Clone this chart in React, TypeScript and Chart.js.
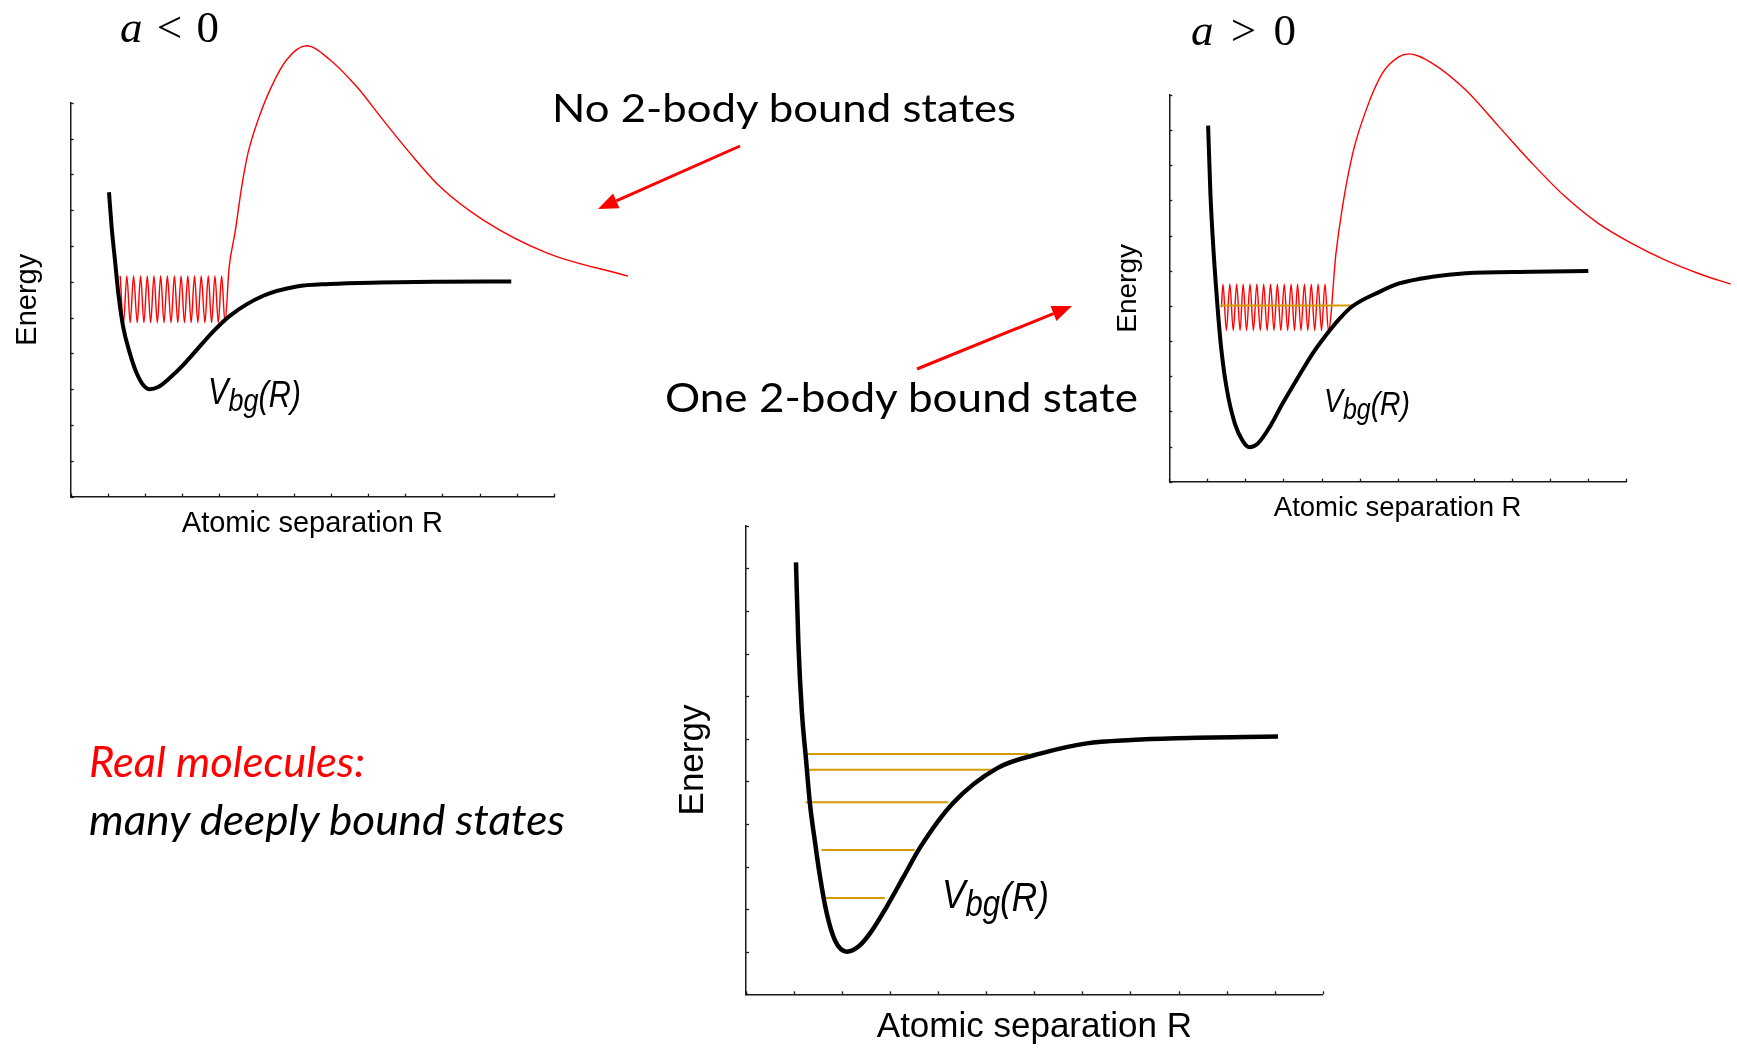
import React, { useEffect, useRef } from "react";
import { Chart, registerables } from "chart.js";

Chart.register(...registerables);

// ---------- DATA (R = atomic separation, E = energy, in tick units) ----------
// Panel 1 : a < 0
const p1CurveR = [1.03, 1.10, 1.19, 1.28, 1.41, 1.59, 1.77, 1.95, 2.13, 2.35, 2.67, 3.03, 3.39, 3.83, 4.28, 5.18, 6.08, 6.97, 8.31, 9.93, 11.85];
const p1CurveE = [8.50, 7.54, 6.61, 5.69, 4.75, 4.01, 3.46, 3.12, 3.00, 3.06, 3.32, 3.68, 4.10, 4.61, 5.05, 5.61, 5.87, 5.94, 5.98, 6.00, 6.01];
const p1WaveR = [1.33, 1.42, 1.51, 1.60, 1.69, 1.79, 1.88, 1.97, 2.06, 2.15, 2.24, 2.33, 2.42, 2.51, 2.60, 2.70, 2.79, 2.88, 2.97, 3.06, 3.15, 3.24, 3.33, 3.42, 3.51, 3.61, 3.70, 3.79, 3.88, 3.97, 4.06, 4.15];
const p1WaveE = [6.16, 4.86, 6.16, 4.86, 6.16, 4.86, 6.16, 4.86, 6.16, 4.86, 6.16, 4.86, 6.16, 4.86, 6.16, 4.86, 6.16, 4.86, 6.16, 4.86, 6.16, 4.86, 6.16, 4.86, 6.16, 4.86, 6.16, 4.86, 6.16, 4.86, 6.16, 4.86];
const p1TailR = [4.26, 4.42, 4.60, 4.77, 5.04, 5.40, 5.81, 6.34, 6.97, 7.69, 8.40, 9.12, 9.93, 11.09, 12.80, 14.99];
const p1TailE = [6.39, 7.37, 8.66, 9.60, 10.52, 11.45, 12.20, 12.59, 12.20, 11.45, 10.52, 9.60, 8.66, 7.73, 6.81, 6.16];
const p1RMax = 13;
const p1EMax = 11;

// Panel 2 : a > 0
const p2CurveR = [1.02, 1.08, 1.15, 1.24, 1.35, 1.50, 1.72, 1.94, 2.11, 2.33, 2.64, 2.98, 3.34, 3.77, 4.02, 4.47, 4.81, 5.52, 6.04, 6.91, 7.79, 9.53, 11.01];
const p2CurveE = [10.13, 8.20, 6.78, 5.36, 3.94, 2.70, 1.66, 1.14, 0.98, 1.09, 1.56, 2.23, 2.89, 3.65, 4.03, 4.63, 4.99, 5.40, 5.64, 5.83, 5.93, 5.97, 5.99];
const p2WaveR = [1.37, 1.41, 1.50, 1.59, 1.68, 1.77, 1.86, 1.94, 2.03, 2.12, 2.21, 2.30, 2.39, 2.48, 2.57, 2.66, 2.75, 2.84, 2.93, 3.02, 3.11, 3.20, 3.29, 3.37, 3.46, 3.55, 3.64, 3.73, 3.82, 3.91, 4.00, 4.09, 4.18];
const p2WaveE = [4.96, 5.62, 4.30, 5.62, 4.30, 5.62, 4.30, 5.62, 4.30, 5.62, 4.30, 5.62, 4.30, 5.62, 4.30, 5.62, 4.30, 5.62, 4.30, 5.62, 4.30, 5.62, 4.30, 5.62, 4.30, 5.62, 4.30, 5.62, 4.30, 5.62, 4.30, 5.62, 4.30];
const p2TailR = [4.38, 4.55, 4.82, 5.17, 5.60, 6.04, 6.30, 6.91, 7.79, 8.66, 9.53, 10.40, 11.27, 12.15, 13.02, 13.89, 14.75];
const p2TailE = [6.50, 7.82, 9.34, 10.57, 11.62, 12.09, 12.17, 11.90, 11.14, 10.10, 9.06, 8.11, 7.35, 6.78, 6.31, 5.93, 5.62];
const p2LevelE = [5.01];
const p2LevelR0 = [1.35];
const p2LevelR1 = [4.82];
const p2RMax = 12;
const p2EMax = 11;

// Panel 3 : real molecules
const p3CurveR = [1.04, 1.09, 1.16, 1.25, 1.33, 1.44, 1.54, 1.68, 1.85, 2.10, 2.34, 2.58, 2.93, 3.28, 3.63, 4.30, 5.23, 6.16, 7.09, 8.02, 8.95, 11.07];
const p3CurveE = [10.14, 8.24, 6.67, 5.50, 4.48, 3.54, 2.76, 1.90, 1.27, 1.00, 1.12, 1.43, 2.06, 2.76, 3.46, 4.48, 5.31, 5.66, 5.89, 5.97, 6.01, 6.05];
const p3LevelE = [5.64, 5.27, 4.51, 3.39, 2.26];
const p3LevelR0 = [1.24, 1.24, 1.24, 1.57, 1.57];
const p3LevelR1 = [5.88, 5.20, 4.21, 3.51, 2.89];
const p3RMax = 12;
const p3EMax = 11;

const xTitleText = "Atomic separation R";
const yTitleText = "Energy";

// ---------- STYLE ----------
const RED = "#ff0000";
const ORANGE = "#d29c00";
const AXIS = "#1a1a1a";
const SANS = "'Liberation Sans', Arial, sans-serif";

type Pt = { x: number; y: number };
const pts = (r: number[], e: number[]): Pt[] => r.map((v, i) => ({ x: v, y: e[i] }));

const innerTicks = {
  id: "innerTicks",
  beforeDatasetsDraw(chart: any) {
    const { ctx, chartArea, scales } = chart;
    ctx.save();
    ctx.strokeStyle = AXIS;
    ctx.lineWidth = 1.3;
    for (const t of scales.x.ticks) {
      const px = Math.round(scales.x.getPixelForValue(t.value)) + 0.5;
      ctx.beginPath();
      ctx.moveTo(px, chartArea.bottom);
      ctx.lineTo(px, chartArea.bottom - 3);
      ctx.stroke();
    }
    for (const t of scales.y.ticks) {
      const py = Math.round(scales.y.getPixelForValue(t.value)) + 0.5;
      ctx.beginPath();
      ctx.moveTo(chartArea.left, py);
      ctx.lineTo(chartArea.left + 3, py);
      ctx.stroke();
    }
    ctx.restore();
  },
};

type Spec = {
  left: number; top: number; width: number; height: number;
  pad: { left: number; right: number; top: number; bottom: number };
  rMax: number; eMax: number;
  curveR: number[]; curveE: number[]; curveWidth: number;
  waveR?: number[]; waveE?: number[]; tailR?: number[]; tailE?: number[];
  levelE?: number[]; levelR0?: number[]; levelR1?: number[];
  yTitleSize: number; yTitleGap: number;
  xTitleSize: number; xTitleGap: number;
};

function buildConfig(s: Spec): any {
  const datasets: any[] = [];
  datasets.push({
    data: pts(s.curveR, s.curveE),
    borderColor: "#000",
    borderWidth: s.curveWidth,
    cubicInterpolationMode: "monotone",
    pointRadius: 0,
    borderJoinStyle: "round",
    clip: false,
  });
  (s.levelE || []).forEach((e, i) => {
    datasets.push({
      data: [{ x: s.levelR0![i], y: e }, { x: s.levelR1![i], y: e }],
      borderColor: ORANGE,
      borderWidth: 2,
      pointRadius: 0,
      tension: 0,
      clip: false,
    });
  });
  if (s.waveR && s.tailR) {
    datasets.push({
      data: pts(s.waveR.concat(s.tailR), s.waveE!.concat(s.tailE!)),
      borderColor: RED,
      borderWidth: 1.4,
      cubicInterpolationMode: "monotone",
      pointRadius: 0,
      clip: false,
    });
  }
  return {
    type: "line",
    data: { datasets },
    plugins: [innerTicks],
    options: {
      animation: false,
      responsive: false,
      maintainAspectRatio: false,
      events: [],
      layout: { padding: s.pad },
      plugins: { legend: { display: false }, tooltip: { enabled: false }, title: { display: false } },
      scales: {
        x: {
          type: "linear",
          // range fixed after data limits so the wave tail beyond the axis end is still drawn
          afterDataLimits: (scale: any) => {
            scale.min = 0;
            scale.max = s.rMax;
          },
          ticks: { display: false, stepSize: 1 },
          grid: { display: false, drawTicks: false },
          border: { display: true, color: AXIS, width: 1.5 },
          title: {
            display: true,
            text: xTitleText,
            color: "#000",
            font: { family: SANS, size: s.xTitleSize },
            padding: { top: s.xTitleGap, bottom: 0 },
          },
        },
        y: {
          type: "linear",
          afterDataLimits: (scale: any) => {
            scale.min = 0;
            scale.max = s.eMax;
          },
          ticks: { display: false, stepSize: 1 },
          grid: { display: false, drawTicks: false },
          border: { display: true, color: AXIS, width: 1.5 },
          title: {
            display: true,
            text: yTitleText,
            color: "#000",
            font: { family: SANS, size: s.yTitleSize },
            padding: { top: 0, bottom: s.yTitleGap },
          },
        },
      },
    },
  };
}

const panels: Spec[] = [
  {
    left: 0, top: 0, width: 640, height: 560,
    pad: { left: 10.6, right: 86, top: 102.7, bottom: 18.6 },
    rMax: p1RMax, eMax: p1EMax,
    curveR: p1CurveR, curveE: p1CurveE, curveWidth: 4,
    waveR: p1WaveR, waveE: p1WaveE, tailR: p1TailR, tailE: p1TailE,
    yTitleSize: 29, yTitleGap: 25.3, xTitleSize: 29, xTitleGap: 9.9,
  },
  {
    left: 1100, top: 0, width: 637, height: 530,
    pad: { left: 11.2, right: 111, top: 95, bottom: 5 },
    rMax: p2RMax, eMax: p2EMax,
    curveR: p2CurveR, curveE: p2CurveE, curveWidth: 4,
    waveR: p2WaveR, waveE: p2WaveE, tailR: p2TailR, tailE: p2TailE,
    levelE: p2LevelE, levelR0: p2LevelR0, levelR1: p2LevelR1,
    yTitleSize: 28, yTitleGap: 24.5, xTitleSize: 27.5, xTitleGap: 10.3,
  },
  {
    left: 650, top: 500, width: 690, height: 548,
    pad: { left: 22.5, right: 17.3, top: 25.7, bottom: 0 },
    rMax: p3RMax, eMax: p3EMax,
    curveR: p3CurveR, curveE: p3CurveE, curveWidth: 4.5,
    levelE: p3LevelE, levelR0: p3LevelR0, levelR1: p3LevelR1,
    yTitleSize: 35, yTitleGap: 31.5, xTitleSize: 35, xTitleGap: 11.7,
  },
];

function PanelChart({ spec }: { spec: Spec }) {
  const ref = useRef<HTMLCanvasElement | null>(null);
  useEffect(() => {
    if (!ref.current) return;
    const chart = new Chart(ref.current, buildConfig(spec));
    return () => chart.destroy();
  }, [spec]);
  return (
    <canvas
      ref={ref}
      width={spec.width}
      height={spec.height}
      style={{ position: "absolute", left: spec.left, top: spec.top, width: spec.width, height: spec.height }}
    />
  );
}

function Arrow({ x1, y1, x2, y2 }: { x1: number; y1: number; x2: number; y2: number }) {
  const dx = x2 - x1, dy = y2 - y1;
  const len = Math.hypot(dx, dy);
  const ux = dx / len, uy = dy / len;
  const hl = 20, hw = 8;
  const bx = x2 - ux * hl, by = y2 - uy * hl;
  const nx = -uy * hw, ny = ux * hw;
  return (
    <g>
      <line x1={x1} y1={y1} x2={bx} y2={by} stroke={RED} strokeWidth={3} />
      <polygon points={`${x2},${y2} ${bx + nx},${by + ny} ${bx - nx},${by - ny}`} fill={RED} />
    </g>
  );
}

const LABEL_FONT = "Lato, 'Open Sans', sans-serif";
const SERIF = "'Liberation Serif', 'Times New Roman', serif";

function Vbg({ x, y, size, len }: { x: number; y: number; size: number; len: number }) {
  return (
    <text x={x} y={y} fontFamily={SANS} fontStyle="italic" fontSize={size} fill="#000" textLength={len} lengthAdjust="spacingAndGlyphs">
      V<tspan dy={size * 0.2} fontSize={size * 0.88}>bg</tspan>
      <tspan dy={-size * 0.12}>(R)</tspan>
    </text>
  );
}

export default function App() {
  return (
    <div style={{ position: "absolute", left: 0, top: 0, width: 1737, height: 1048, overflow: "hidden", background: "#fff" }}>
      {panels.map((p, i) => (
        <PanelChart key={i} spec={p} />
      ))}
      <svg width={1737} height={1048} style={{ position: "absolute", left: 0, top: 0, pointerEvents: "none" }}>
        <text x={120} y={42} fontFamily={SERIF} fontSize={45} fill="#000" textLength={99} lengthAdjust="spacing">
          <tspan fontStyle="italic">a</tspan> &lt; 0
        </text>
        <text x={1191} y={45} fontFamily={SERIF} fontSize={45} fill="#000" textLength={105} lengthAdjust="spacing">
          <tspan fontStyle="italic">a</tspan> &gt; 0
        </text>
        <text x={552} y={122} fontFamily={LABEL_FONT} fontSize={39} fill="#000" textLength={464} lengthAdjust="spacingAndGlyphs">
          No 2-body bound states
        </text>
        <text x={665} y={412} fontFamily={LABEL_FONT} fontSize={40} fill="#000" textLength={473} lengthAdjust="spacingAndGlyphs">
          One 2-body bound state
        </text>
        <text x={89} y={777} fontFamily={LABEL_FONT} fontStyle="italic" fontSize={42} fill={RED} textLength={276} lengthAdjust="spacingAndGlyphs">
          Real molecules:
        </text>
        <text x={89} y={835} fontFamily={LABEL_FONT} fontStyle="italic" fontSize={42} fill="#000" textLength={476} lengthAdjust="spacingAndGlyphs">
          many deeply bound states
        </text>
        <Vbg x={208} y={404} size={36} len={93} />
        <Vbg x={1324} y={412} size={34} len={86} />
        <Vbg x={942} y={908} size={41} len={107} />
        <Arrow x1={740} y1={146} x2={598} y2={209} />
        <Arrow x1={917} y1={369} x2={1072} y2={306} />
      </svg>
    </div>
  );
}
